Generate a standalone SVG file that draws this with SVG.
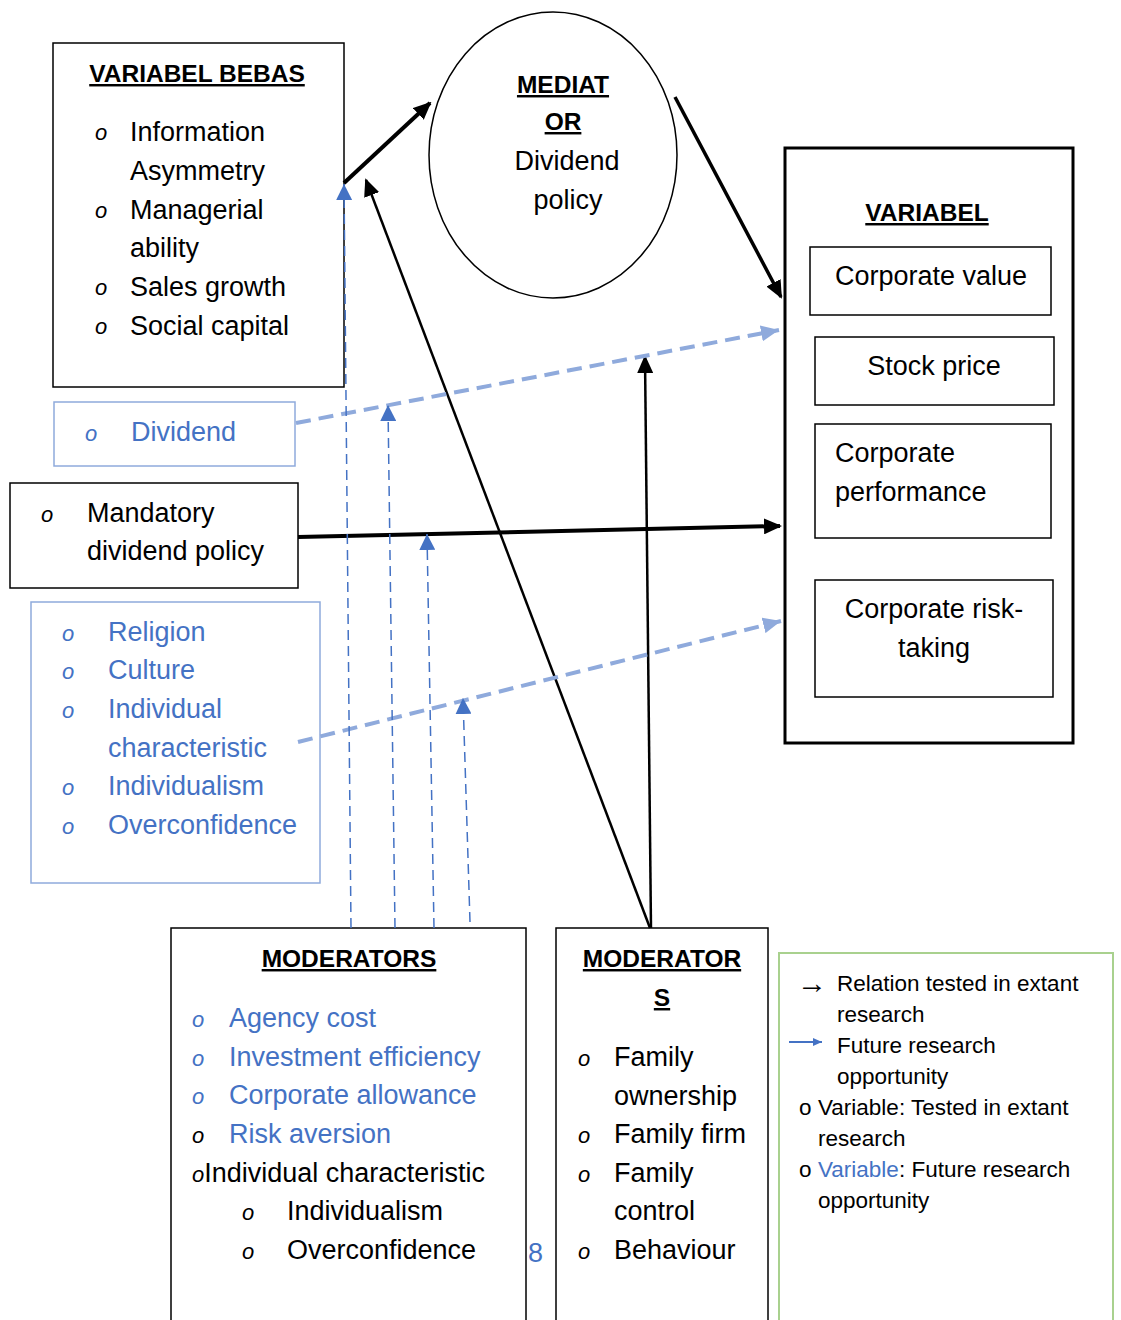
<svg xmlns="http://www.w3.org/2000/svg" width="1121" height="1320" viewBox="0 0 1121 1320">
<style>
text{font-family:"Liberation Sans",Arial,sans-serif;fill:#000}
.b{font-size:27px}
.t{font-size:24.5px;font-weight:bold;text-decoration:underline}
.blue{fill:#4472C4}
.bul{font-size:22px;font-style:italic}
.lg{font-size:22.5px}
.box{fill:#fff;stroke:#000;stroke-width:1.5}
.lbox{fill:#fff;stroke:#8FAADC;stroke-width:1.5}
.c{text-anchor:middle}
</style>
<defs>
<marker id="ak" markerUnits="userSpaceOnUse" markerWidth="18" markerHeight="16" refX="16" refY="8" orient="auto"><path d="M0,0L18,8L0,16z" fill="#000"/></marker>
<marker id="ab" markerUnits="userSpaceOnUse" markerWidth="16" markerHeight="16" refX="16" refY="8" orient="auto"><path d="M0,0L16,8L0,16z" fill="#4472C4"/></marker>
<marker id="al" markerUnits="userSpaceOnUse" markerWidth="18" markerHeight="16" refX="18" refY="8" orient="auto"><path d="M0,0L18,8L0,16z" fill="#8FAADC"/></marker>
<marker id="asm" markerUnits="userSpaceOnUse" markerWidth="9" markerHeight="8" refX="9" refY="4" orient="auto"><path d="M0,0L9,4L0,8z" fill="#4472C4"/></marker>
</defs>

<g id="variabel-bebas">
<rect class="box" x="53" y="43" width="291" height="344"/>
<text class="t c" x="197" y="82">VARIABEL BEBAS</text>
<text class="bul" x="95" y="140">o</text><text class="b" x="130" y="141">Information</text>
<text class="b" x="130" y="180">Asymmetry</text>
<text class="bul" x="95" y="218">o</text><text class="b" x="130" y="219">Managerial</text>
<text class="b" x="130" y="257">ability</text>
<text class="bul" x="95" y="295">o</text><text class="b" x="130" y="296">Sales growth</text>
<text class="bul" x="95" y="334">o</text><text class="b" x="130" y="335">Social capital</text>
</g>

<g id="mediator">
<ellipse cx="553" cy="155" rx="124" ry="143" fill="#fff" stroke="#000" stroke-width="1.5"/>
<text class="t c" x="563" y="93">MEDIAT</text>
<text class="t c" x="563" y="130">OR</text>
<text class="b c" x="567" y="170">Dividend</text>
<text class="b c" x="568" y="209">policy</text>
</g>

<g id="variabel">
<rect x="785" y="148" width="288" height="595" fill="#fff" stroke="#000" stroke-width="3"/>
<text class="t c" x="927" y="221">VARIABEL</text>
</g>
<g id="corporate-value">
<rect class="box" x="810" y="247" width="241" height="68"/>
<text class="b c" x="931" y="285">Corporate value</text>
</g>
<g id="stock-price">
<rect class="box" x="815" y="337" width="239" height="68"/>
<text class="b c" x="934" y="375">Stock price</text>
</g>
<g id="corporate-performance">
<rect class="box" x="815" y="424" width="236" height="114"/>
<text class="b" x="835" y="462">Corporate</text>
<text class="b" x="835" y="501">performance</text>
</g>
<g id="corporate-risk-taking">
<rect class="box" x="815" y="580" width="238" height="117"/>
<text class="b c" x="934" y="618">Corporate risk-</text>
<text class="b c" x="934" y="657">taking</text>
</g>

<g id="dividend">
<rect class="lbox" x="54" y="402" width="241" height="64"/>
<text class="bul blue" x="85" y="441">o</text><text class="b blue" x="131" y="441">Dividend</text>
</g>

<g id="mandatory">
<rect class="box" x="10" y="483" width="288" height="105"/>
<text class="bul" x="41" y="522">o</text><text class="b" x="87" y="522">Mandatory</text>
<text class="b" x="87" y="560">dividend policy</text>
</g>

<g id="religion">
<rect class="lbox" x="31" y="602" width="289" height="281"/>
<text class="bul blue" x="62" y="641">o</text><text class="b blue" x="108" y="641">Religion</text>
<text class="bul blue" x="62" y="679">o</text><text class="b blue" x="108" y="679">Culture</text>
<text class="bul blue" x="62" y="718">o</text><text class="b blue" x="108" y="718">Individual</text>
<text class="b blue" x="108" y="757">characteristic</text>
<text class="bul blue" x="62" y="795">o</text><text class="b blue" x="108" y="795">Individualism</text>
<text class="bul blue" x="62" y="834">o</text><text class="b blue" x="108" y="834">Overconfidence</text>
</g>

<g id="moderators-1">
<rect class="box" x="171" y="928" width="355" height="400"/>
<text class="t c" x="349" y="967">MODERATORS</text>
<text class="bul blue" x="192" y="1027">o</text><text class="b blue" x="229" y="1027">Agency cost</text>
<text class="bul blue" x="192" y="1066">o</text><text class="b blue" x="229" y="1066">Investment efficiency</text>
<text class="bul blue" x="192" y="1104">o</text><text class="b blue" x="229" y="1104">Corporate allowance</text>
<text class="bul" x="192" y="1143">o</text><text class="b blue" x="229" y="1143">Risk aversion</text>
<text class="b" x="192" y="1182"><tspan font-style="italic" font-size="22">o</tspan>Individual characteristic</text>
<text class="bul" x="242" y="1220">o</text><text class="b" x="287" y="1220">Individualism</text>
<text class="bul" x="242" y="1259">o</text><text class="b" x="287" y="1259">Overconfidence</text>
</g>
<text class="b blue" x="528" y="1262">8</text>

<g id="moderators-2">
<rect class="box" x="556" y="928" width="212" height="400"/>
<text class="t c" x="662" y="967">MODERATOR</text>
<text class="t c" x="662" y="1006">S</text>
<text class="bul" x="578" y="1066">o</text><text class="b" x="614" y="1066">Family</text>
<text class="b" x="614" y="1105">ownership</text>
<text class="bul" x="578" y="1143">o</text><text class="b" x="614" y="1143">Family firm</text>
<text class="bul" x="578" y="1182">o</text><text class="b" x="614" y="1182">Family</text>
<text class="b" x="614" y="1220">control</text>
<text class="bul" x="578" y="1259">o</text><text class="b" x="614" y="1259">Behaviour</text>
</g>

<g id="legend">
<rect x="779" y="953" width="334" height="380" fill="#fff" stroke="#A9D18E" stroke-width="2"/>
<text x="797" y="993" font-family="'DejaVu Sans',sans-serif" font-size="30">→</text>
<text class="lg" x="837" y="991">Relation tested in extant</text>
<text class="lg" x="837" y="1022">research</text>
<line x1="789" y1="1042" x2="822" y2="1042" stroke="#4472C4" stroke-width="2" marker-end="url(#asm)"/>
<text class="lg" x="837" y="1053">Future research</text>
<text class="lg" x="837" y="1084">opportunity</text>
<text class="lg" x="799" y="1115">o</text><text class="lg" x="818" y="1115">Variable: Tested in extant</text>
<text class="lg" x="818" y="1146">research</text>
<text class="lg" x="799" y="1177">o</text><text class="lg" x="818" y="1177"><tspan class="blue">Variable</tspan>: Future research</text>
<text class="lg" x="818" y="1208">opportunity</text>
</g>

<g id="connectors" fill="none">
<line x1="344" y1="183" x2="430" y2="103" stroke="#000" stroke-width="4" marker-end="url(#ak)"/>
<line x1="675" y1="97" x2="781" y2="297" stroke="#000" stroke-width="3.5" marker-end="url(#ak)"/>
<line x1="650" y1="928" x2="366" y2="180" stroke="#000" stroke-width="2.5" marker-end="url(#ak)"/>
<line x1="651" y1="928" x2="645" y2="357" stroke="#000" stroke-width="2.5" marker-end="url(#ak)"/>
<line x1="298" y1="537" x2="780" y2="526" stroke="#000" stroke-width="4" marker-end="url(#ak)"/>
<line x1="296" y1="423" x2="779" y2="330" stroke="#8FAADC" stroke-width="4" stroke-dasharray="15,8" marker-end="url(#al)"/>
<line x1="298" y1="742" x2="781" y2="621" stroke="#8FAADC" stroke-width="4" stroke-dasharray="15,8" marker-end="url(#al)"/>
<line x1="351" y1="928" x2="344" y2="184" stroke="#4472C4" stroke-width="1.5" stroke-dasharray="10,6" marker-end="url(#ab)"/>
<line x1="395" y1="928" x2="388" y2="405" stroke="#4472C4" stroke-width="1.5" stroke-dasharray="10,6" marker-end="url(#ab)"/>
<line x1="434" y1="928" x2="427" y2="534" stroke="#4472C4" stroke-width="1.5" stroke-dasharray="10,6" marker-end="url(#ab)"/>
<line x1="470" y1="922" x2="463" y2="698" stroke="#4472C4" stroke-width="1.5" stroke-dasharray="10,6" marker-end="url(#ab)"/>
</g>
</svg>
